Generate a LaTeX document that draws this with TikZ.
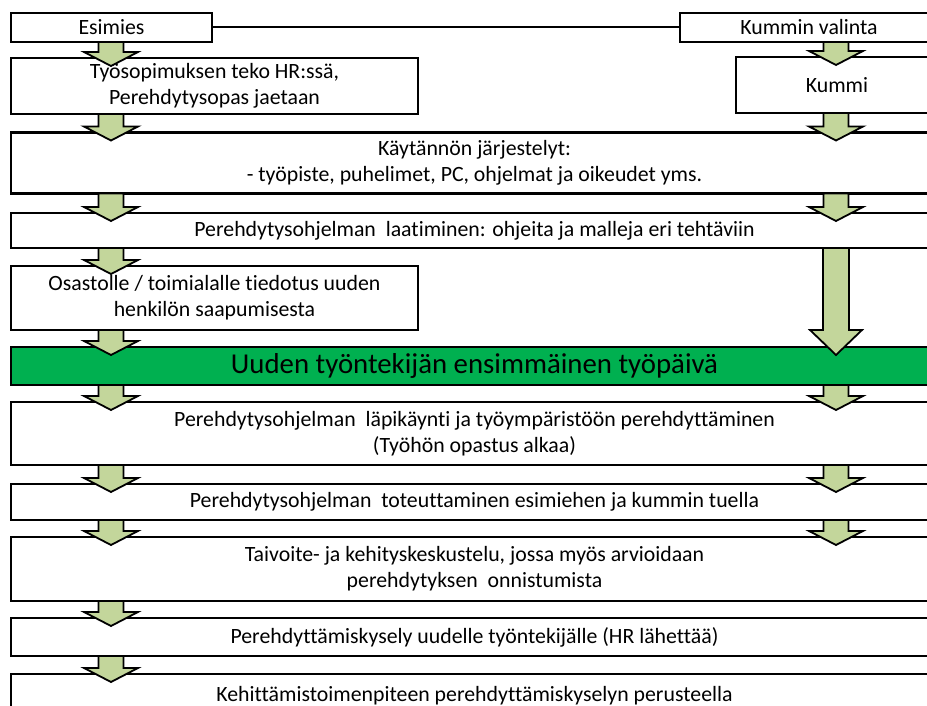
\documentclass[tikz,border=0pt]{standalone}
\usepackage{fontspec}
\setmainfont{Carlito}[Ligatures=NoCommon]
\usetikzlibrary{calc}
\definecolor{arrowfill}{HTML}{C3D69B}
\definecolor{daygreen}{HTML}{00B050}
\tikzset{
  box/.style={draw=black, line width=2.6pt, fill=white, inner sep=0pt, outer sep=0pt,
    align=center, font=\fontsize{21.8}{26}\selectfont},
  greenbox/.style={box, fill=daygreen, font=\fontsize{28.8}{32}\selectfont},
  blockarrow/.style={draw=black, line width=1.8pt, fill=arrowfill, line join=miter},
  link/.style={draw=black, line width=2pt}
}
% #1 source, #2 target, #3 x centre, #4 shaft half width, #5 head half width, #6 head length
\newcommand\blockarr[6]{%
  \draw[blockarrow] let \p1=(#1.south), \p2=(#2.north) in
   ({(#3-#4)*1pt},\y1) -- ({(#3+#4)*1pt},\y1)
   -- ({(#3+#4)*1pt},{\y2-8pt+#6pt}) -- ({(#3+#5)*1pt},{\y2-8pt+#6pt})
   -- ({#3*1pt},{\y2-8pt}) -- ({(#3-#5)*1pt},{\y2-8pt+#6pt})
   -- ({(#3-#4)*1pt},{\y2-8pt+#6pt}) -- cycle;}
\begin{document}
\begin{tikzpicture}[x=1pt,y=-1pt]
\useasboundingbox (0,0) rectangle (927,706);
\clip (0,0) rectangle (927,706);
\fill[white] (0,0) rectangle (927,706);

\node[box, minimum width=201pt, minimum height=29pt] (esimies) at (111.5,27.5) {Esimies};
\node[box, minimum width=258pt, minimum height=29pt] (kvalinta) at (809,27.5) {Kummin valinta};
\node[box, minimum width=407pt, minimum height=56pt] (tyosop) at (214.5,86) {Työsopimuksen teko HR:ssä,\\Perehdytysopas jaetaan};
\node[box, minimum width=202pt, minimum height=56pt] (kummi) at (837,85) {Kummi};
\node[box, minimum width=927pt, minimum height=61pt] (kaytannon) at (474.5,163) {Käytännön järjestelyt:\\- työpiste, puhelimet, PC, ohjelmat ja oikeudet yms.};
\node[box, minimum width=927pt, minimum height=35pt] (laatiminen) at (474.5,230.5) {Perehdytysohjelman\ \ laatiminen: ohjeita ja malleja eri tehtäviin};
\node[box, minimum width=407pt, minimum height=64pt] (osastolle) at (214.5,298) {Osastolle / toimialalle tiedotus uuden\\henkilön saapumisesta};
\node[greenbox, minimum width=927pt, minimum height=38pt] (green) at (474.5,366) {Uuden työntekijän ensimmäinen työpäivä};
\node[box, minimum width=927pt, minimum height=63pt] (lapikaynti) at (474.5,433.5) {Perehdytysohjelman\ \ läpikäynti ja työympäristöön perehdyttäminen\\(Työhön opastus alkaa)};
\node[box, minimum width=927pt, minimum height=36pt] (toteutus) at (474.5,502) {Perehdytysohjelman\ \ toteuttaminen esimiehen ja kummin tuella};
\node[box, minimum width=927pt, minimum height=64pt] (taivoite) at (474.5,569) {Taivoite- ja kehityskeskustelu, jossa myös arvioidaan\\perehdytyksen\ \ onnistumista};
\node[box, minimum width=927pt, minimum height=38pt] (kysely) at (474.5,637) {Perehdyttämiskysely uudelle työntekijälle (HR lähettää)};
\node[box, minimum width=927pt, minimum height=40pt, text depth=0pt] (kehitt) at (474.5,694) {Kehittämistoimenpiteen perehdyttämiskyselyn perusteella};

\draw[link] (esimies.east) -- (kvalinta.west);

% left column arrows
\blockarr{esimies}{tyosop}{111}{12.5}{27}{14}
\blockarr{tyosop}{kaytannon}{111}{12.5}{27}{14}
\blockarr{kaytannon}{laatiminen}{111}{12.5}{27}{14}
\blockarr{laatiminen}{osastolle}{111}{12.5}{27}{14}
\blockarr{osastolle}{green}{111}{12.5}{27}{14}
\blockarr{green}{lapikaynti}{111}{12.5}{27}{14}
\blockarr{lapikaynti}{toteutus}{111}{12.5}{27}{14}
\blockarr{toteutus}{taivoite}{111}{12.5}{27}{14}
\blockarr{taivoite}{kysely}{111}{12.5}{27}{14}
\blockarr{kysely}{kehitt}{111}{12.5}{27}{14}
% right column arrows
\blockarr{kvalinta}{kummi}{836}{12.5}{27}{14}
\blockarr{kummi}{kaytannon}{836}{12.5}{27}{14}
\blockarr{kaytannon}{laatiminen}{836}{12.5}{27}{14}
\blockarr{laatiminen}{green}{836}{13}{26}{25}
\blockarr{green}{lapikaynti}{836}{12.5}{27}{14}
\blockarr{lapikaynti}{toteutus}{836}{12.5}{27}{14}
\blockarr{toteutus}{taivoite}{836}{12.5}{27}{14}
\end{tikzpicture}
\end{document}
